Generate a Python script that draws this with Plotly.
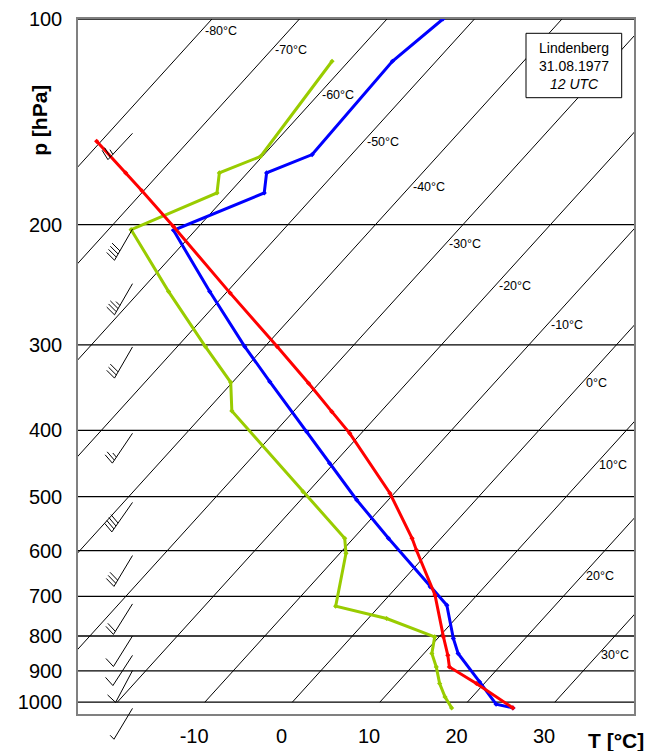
import math
import plotly.graph_objects as go

# ---------------- data ----------------
# observed temperature (blue)
temp_p = [100, 115.3, 157.9, 168.0, 179.7, 203.8, 250.6, 301.6, 339.5, 401.8, 447.0,
          505.8, 575.6, 677.9, 721.0, 806.7, 848.6, 933.8, 1006.8, 1019.4]
temp_t = [-53.6, -55.0, -54.5, -57.8, -56.0, -62.5, -52.0, -42.3, -35.8, -26.4, -20.5,
          -13.6, -6.0, 3.8, 7.6, 11.8, 13.9, 19.3, 23.5, 25.8]
# dew point (green)
dew_p = [115.3, 158.9, 168.0, 179.7, 203.4, 250.6, 301.6, 340.2, 374.7, 491.9, 575.6,
         605.4, 723.4, 754.2, 802.3, 848.6, 888.0, 938.9, 982.3, 1019.4]
dew_t = [-61.9, -60.2, -63.2, -61.4, -67.4, -56.7, -46.8, -40.2, -37.1, -20.6, -11.0,
         -9.3, -5.0, 2.1, 9.5, 10.9, 12.8, 14.9, 16.9, 18.8]
# lifted parcel (red)
parcel_p = [151.0, 168.0, 178.4, 201.2, 251.9, 301.6, 341.3, 375.6, 404.1, 494.5, 575.6,
            598.7, 696.9, 802.3, 853.5, 888.0, 938.9, 1019.4]
parcel_t = [-80.5, -73.9, -70.2, -62.9, -49.5, -38.6, -31.2, -25.6, -21.3, -10.5, -3.3,
            -1.6, 5.2, 10.5, 12.9, 14.3, 19.1, 25.8]

isotherm_values = [-80, -70, -60, -50, -40, -30, -20, -10, 0, 10, 20, 30]
isotherm_label_p = [104.3, 111.1, 129.3, 151.5, 176.4, 213.4, 246.2, 280.2, 341.0, 450.1, 652.7, 853.9]
isobar_values = [100, 200, 300, 400, 500, 600, 700, 800, 900, 1000]
x_tick_values = [-10, 0, 10, 20, 30]

# wind (station pressure, direction deg, speed kt)
wind_p = [147, 203, 244, 302, 404, 510, 610, 718, 800, 854, 899, 1021]
wind_dir = [223, 210, 210, 210, 214, 215, 211, 212, 212, 213, 208, 211]
wind_kt = [25, 40, 35, 30, 25, 40, 30, 20, 10, 10, 10, 5]

box_lines = ["Lindenberg", "31.08.1977", "<i>12 UTC</i>"]

# ---------------- layout geometry ----------------
FIG_W, FIG_H = 651, 751
ML, MR, MT, MB = 78, 17, 19, 37
PW = FIG_W - ML - MR
PH = FIG_H - MT - MB
PX_PER_DEG = 8.75
PX_PER_DECADE = 683.2
SLOPE = 0.907
LOG_TOP = 2.0
LOG_BOT = LOG_TOP + PH / PX_PER_DECADE
K = SLOPE * PX_PER_DECADE / PX_PER_DEG
X0_PX = 281.6 - ML
X_MIN = -X0_PX / PX_PER_DEG
X_MAX = (PW - X0_PX) / PX_PER_DEG

FONT = "Liberation Sans, Arial, sans-serif"


def skew(t, p):
    return t + K * (LOG_BOT - math.log10(p))


def p_to_py(p):
    return MT + (math.log10(p) - LOG_TOP) * PX_PER_DECADE


def to_paper(px, py):
    return (px - ML) / PW, 1 - (py - MT) / PH


fig = go.Figure()

# isobars
xs, ys = [], []
for p in isobar_values:
    xs += [X_MIN, X_MAX, None]
    ys += [p, p, None]
fig.add_trace(go.Scatter(x=xs, y=ys, mode="lines", line=dict(color="black", width=1.3),
                         hoverinfo="skip", showlegend=False))

# isotherms (from 1000 hPa up to 100 hPa)
xs, ys = [], []
for t in isotherm_values:
    xs += [skew(t, 1000), skew(t, 100), None]
    ys += [1000, 100, None]
fig.add_trace(go.Scatter(x=xs, y=ys, mode="lines", line=dict(color="black", width=1),
                         hoverinfo="skip", showlegend=False))

# profiles
for pp, tt, col in [(dew_p, dew_t, "#99CC00"), (temp_p, temp_t, "#0000FF"),
                    (parcel_p, parcel_t, "#FF0000")]:
    fig.add_trace(go.Scatter(x=[skew(t, p) for t, p in zip(tt, pp)], y=pp,
                             mode="lines+markers", line=dict(color=col, width=3),
                             marker=dict(color=col, size=4, symbol="diamond"),
                             showlegend=False))

annotations = []
# isotherm labels
for t, p in zip(isotherm_values, isotherm_label_p):
    annotations.append(dict(x=skew(t, p), y=math.log10(p), xref="x", yref="y",
                            text=f"{t}°C", showarrow=False, xanchor="left", yanchor="middle",
                            xshift=2, font=dict(family=FONT, size=12.5, color="black")))

# info box
bx0, by0 = to_paper(526, 97.7)
bx1, by1 = to_paper(621.7, 33.3)
shapes = [dict(type="rect", xref="paper", yref="paper", x0=bx0, y0=by0, x1=bx1, y1=by1,
               line=dict(color="black", width=1), fillcolor="white", layer="above")]
annotations.append(dict(x=(bx0 + bx1) / 2, y=(by0 + by1) / 2, xref="paper", yref="paper",
                        text="<br>".join(box_lines), showarrow=False, xanchor="center",
                        yanchor="middle", align="center",
                        font=dict(family=FONT, size=14, color="black")))

# axis titles
px_, py_ = to_paper(40, 120.8)
annotations.append(dict(x=px_, y=py_, xref="paper", yref="paper", text="<b>p [hPa]</b>",
                        textangle=-90, showarrow=False, xanchor="center", yanchor="middle",
                        font=dict(family=FONT, size=21, color="black")))
tx_, ty_ = to_paper(616, 726.5)
annotations.append(dict(x=tx_, y=ty_, xref="paper", yref="paper", text="<b>T [°C]</b>",
                        showarrow=False, xanchor="center", yanchor="top",
                        font=dict(family=FONT, size=21, color="black")))

# wind barbs
BARB_X_PX = 132.5
STAFF = 36
FEATHER = 11
SPACING = 3.6
TILT = math.radians(15)
for p, d, s in zip(wind_p, wind_dir, wind_kt):
    r = math.radians(d)
    ux, uy = math.sin(r), -math.cos(r)
    tx, ty = BARB_X_PX, p_to_py(p)
    bx, by = tx + STAFF * ux, ty + STAFF * uy
    fx = math.cos(TILT) * math.cos(r) + math.sin(TILT) * (-ux)
    fy = math.cos(TILT) * math.sin(r) + math.sin(TILT) * (-uy)
    segs = [((tx, ty), (bx, by))]
    n_full = s // 10
    half = (s % 10) >= 5
    for k in range(n_full):
        sx, sy = bx - k * SPACING * ux, by - k * SPACING * uy
        segs.append(((sx, sy), (sx + FEATHER * fx, sy + FEATHER * fy)))
    if half:
        k = n_full
        sx, sy = bx - k * SPACING * ux, by - k * SPACING * uy
        segs.append(((sx, sy), (sx + FEATHER / 2 * fx, sy + FEATHER / 2 * fy)))
    path = ""
    for (a, b) in segs:
        ax_, ay_ = to_paper(*a)
        bx_, by_ = to_paper(*b)
        path += f"M {ax_:.5f},{ay_:.5f} L {bx_:.5f},{by_:.5f} "
    shapes.append(dict(type="path", xref="paper", yref="paper", path=path,
                       line=dict(color="black", width=1), layer="above"))

fig.update_layout(
    width=FIG_W, height=FIG_H,
    margin=dict(l=ML, r=MR, t=MT, b=MB, pad=0, autoexpand=False),
    paper_bgcolor="white", plot_bgcolor="white",
    showlegend=False,
    annotations=annotations,
    shapes=shapes,
    xaxis=dict(range=[X_MIN, X_MAX], tickvals=x_tick_values, automargin=False,
               ticktext=[str(v) for v in x_tick_values], showgrid=False, zeroline=False,
               showline=True, mirror=True, linecolor="#808080", linewidth=1.5,
               ticks="", ticklabelstandoff=3, layer="below traces",
               tickfont=dict(family=FONT, size=20, color="black")),
    yaxis=dict(type="log", range=[LOG_BOT, LOG_TOP], tickvals=isobar_values, automargin=False,
               ticktext=[str(v) for v in isobar_values], showgrid=False, zeroline=False,
               showline=True, mirror=True, linecolor="#808080", linewidth=1.5,
               ticks="", ticklabelstandoff=10, layer="below traces",
               tickfont=dict(family=FONT, size=20, color="black")),
)

fig.write_html("out.html")
